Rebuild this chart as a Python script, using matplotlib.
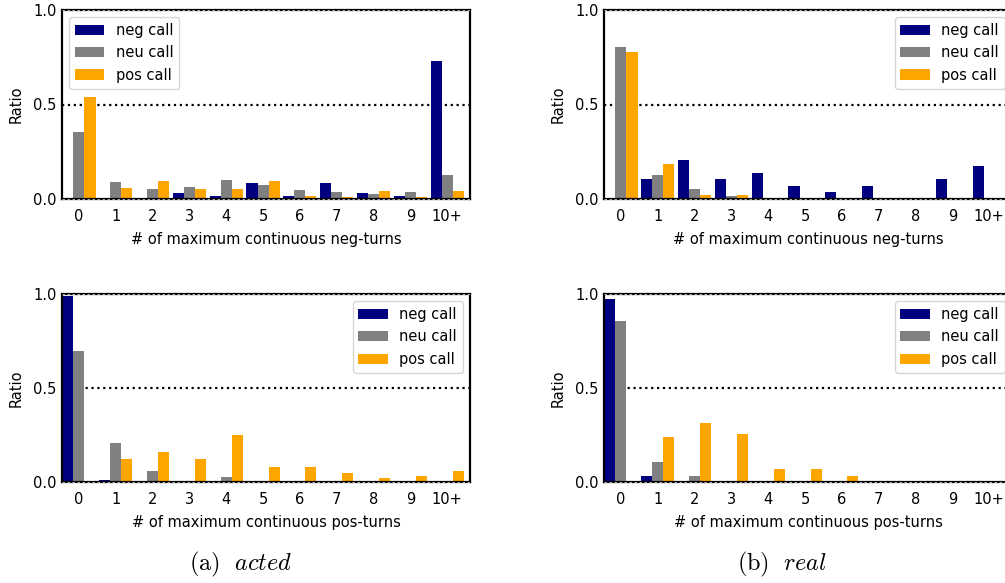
import matplotlib
matplotlib.use("Agg")
import matplotlib.pyplot as plt
import numpy as np

plt.rcParams["font.family"] = "DejaVu Sans"
plt.rcParams["font.size"] = 10.5
plt.rcParams["mathtext.fontset"] = "cm"

categories = ["0", "1", "2", "3", "4", "5", "6", "7", "8", "9", "10+"]
series_names = ["neg call", "neu call", "pos call"]
colors = ["#000080", "#808080", "#FFA500"]

# acted, neg-turns
acted_neg = {
    "neg call": [0.0, 0.003, 0.003, 0.032, 0.016, 0.085, 0.016, 0.085, 0.032, 0.016, 0.73],
    "neu call": [0.354, 0.09, 0.053, 0.063, 0.10, 0.072, 0.048, 0.037, 0.026, 0.037, 0.127],
    "pos call": [0.54, 0.058, 0.095, 0.053, 0.053, 0.095, 0.016, 0.01, 0.042, 0.01, 0.042],
}
# real, neg-turns
real_neg = {
    "neg call": [0.0, 0.106, 0.206, 0.106, 0.138, 0.069, 0.037, 0.069, 0.0, 0.106, 0.175],
    "neu call": [0.804, 0.127, 0.053, 0.016, 0.0, 0.0, 0.0, 0.0, 0.0, 0.0, 0.0],
    "pos call": [0.778, 0.185, 0.021, 0.021, 0.0, 0.0, 0.0, 0.0, 0.0, 0.0, 0.0],
}
# acted, pos-turns
acted_pos = {
    "neg call": [0.989, 0.011, 0.0, 0.0, 0.0, 0.0, 0.0, 0.0, 0.0, 0.0, 0.0],
    "neu call": [0.695, 0.209, 0.059, 0.005, 0.027, 0.0, 0.0, 0.0, 0.0, 0.0, 0.0],
    "pos call": [0.0, 0.123, 0.16, 0.123, 0.251, 0.08, 0.08, 0.048, 0.021, 0.032, 0.059],
}
# real, pos-turns
real_pos = {
    "neg call": [0.973, 0.032, 0.0, 0.0, 0.0, 0.0, 0.0, 0.0, 0.0, 0.0, 0.0],
    "neu call": [0.856, 0.107, 0.032, 0.0, 0.0, 0.0, 0.0, 0.0, 0.0, 0.0, 0.0],
    "pos call": [0.0, 0.241, 0.316, 0.257, 0.07, 0.07, 0.032, 0.0, 0.0, 0.0, 0.0],
}

W, H = 1005, 583
fig = plt.figure(figsize=(W / 100, H / 100), dpi=100)


def px_axes(left, top, right, bottom):
    return fig.add_axes([left / W, (H - bottom) / H, (right - left) / W, (bottom - top) / H])


def draw_panel(ax, data, xlabel, legend_loc):
    x = np.arange(len(categories))
    width = 0.3
    ax.axhline(0.5, ls=":", color="black", lw=1.6, zorder=0.5)
    for i, name in enumerate(series_names):
        ax.bar(x + (i - 1) * width, data[name], width, color=colors[i], label=name, zorder=2)
    ax.set_xlim(-0.46, 10.62)
    ax.set_ylim(0, 1.0)
    ax.set_yticks([0.0, 0.5, 1.0])
    ax.set_xticks(x)
    ax.set_xticklabels(categories)
    ax.tick_params(axis="both", length=0)
    ax.tick_params(axis="x", pad=7)
    ax.tick_params(axis="y", pad=4)
    for sp in ax.spines.values():
        sp.set_linewidth(1.6)
        sp.set_color("black")
    for yy in (0.0, 1.0):
        ax.axhline(yy, ls=(0, (3, 3)), color="#c8c8c8", lw=0.6, zorder=5, clip_on=False)
    ax.set_ylabel("Ratio", labelpad=7)
    ax.set_xlabel(xlabel, labelpad=6)
    ax.legend(loc=legend_loc, fontsize=10.5)


ax1 = px_axes(62, 10, 470, 199)
draw_panel(ax1, acted_neg, "# of maximum continuous neg-turns", "upper left")
ax2 = px_axes(604, 10, 1012, 199)
draw_panel(ax2, real_neg, "# of maximum continuous neg-turns", "upper right")
ax3 = px_axes(62, 294, 470, 482)
draw_panel(ax3, acted_pos, "# of maximum continuous pos-turns", "upper right")
ax4 = px_axes(604, 294, 1012, 482)
draw_panel(ax4, real_pos, "# of maximum continuous pos-turns", "upper right")

fig.text(241 / W, 1 - 564 / H, r"$\mathrm{(a)}\ \ \mathit{acted}$", fontsize=17.5, ha="center", va="center")
fig.text(782 / W, 1 - 564 / H, r"$\mathrm{(b)}\ \ \mathit{real}$", fontsize=17.5, ha="center", va="center")

fig.savefig("out.png", dpi=100)
